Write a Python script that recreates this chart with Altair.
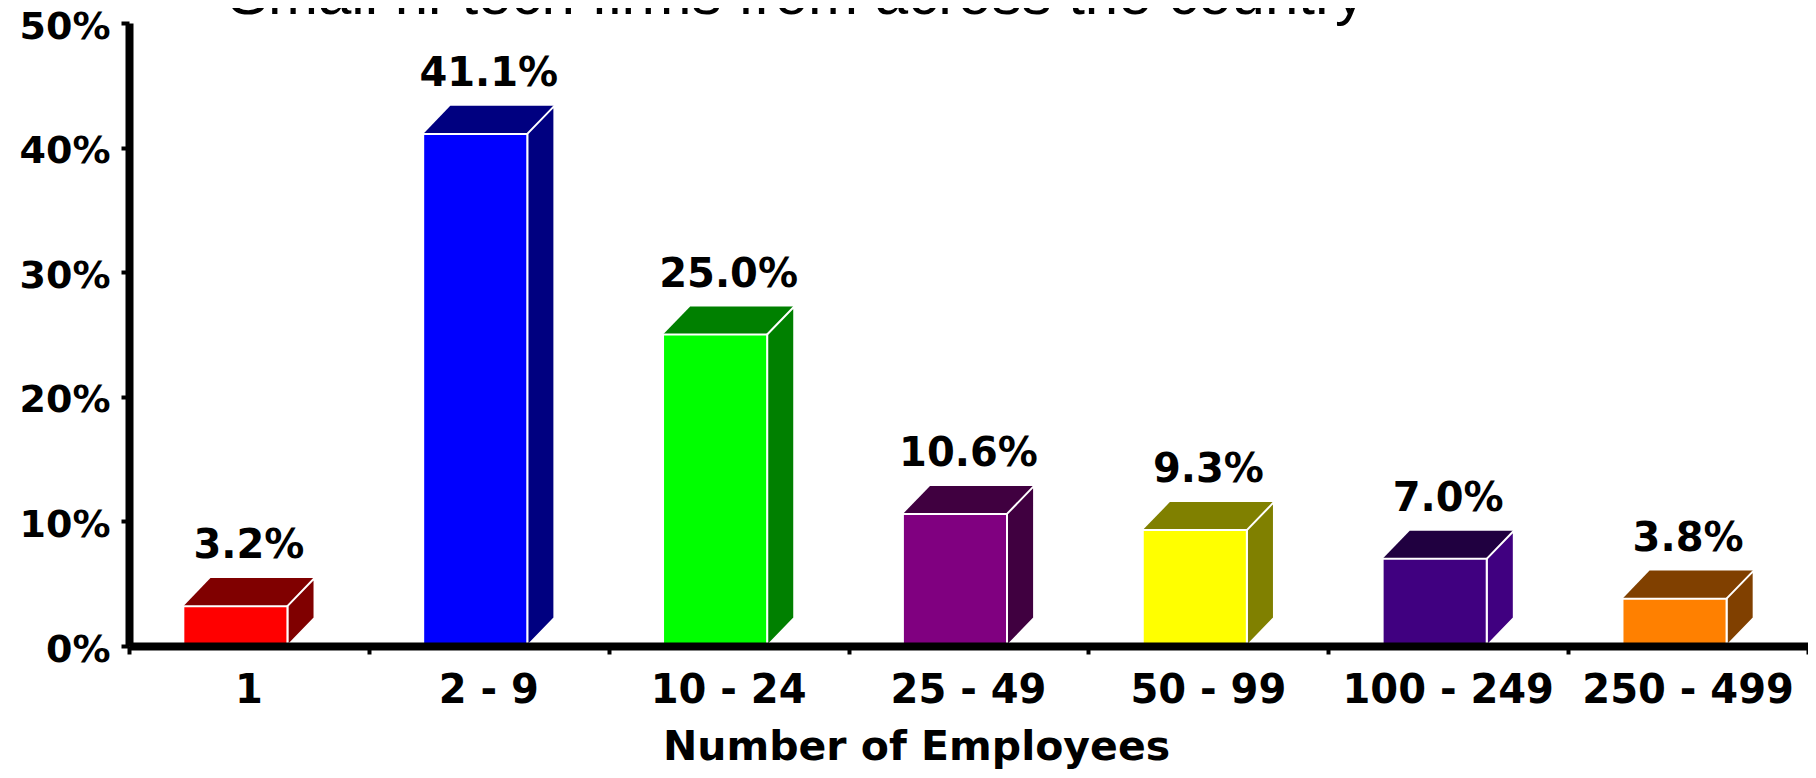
import altair as alt
import pandas as pd

# ---- data ----
CATEGORIES = ["1", "2 - 9", "10 - 24", "25 - 49", "50 - 99", "100 - 249", "250 - 499"]
SHARES = [3.2, 41.1, 25.0, 10.6, 9.3, 7.0, 3.8]
VALUE_LABELS = ["3.2%", "41.1%", "25.0%", "10.6%", "9.3%", "7.0%", "3.8%"]
Y_TICKS = [0, 10, 20, 30, 40, 50]
TITLE = "Small hi-tech firms from across the country"
X_TITLE = "Number of Employees"

# ---- styles ----
FRONT_COLORS = ["#ff0000", "#0000ff", "#00ff00", "#800080", "#ffff00", "#400080", "#ff8000"]
SIDE_COLORS = ["#800000", "#000080", "#008000", "#400040", "#808000", "#400080", "#804000"]
TOP_COLORS = ["#800000", "#000080", "#008000", "#400040", "#808000", "#200040", "#804000"]
BAR_W = 0.434    # front face width, in category units
DEPTH_X = 0.113  # 3-D depth, category units
DEPTH_Y = 2.25   # 3-D depth, percentage points
BOLD = "DejaVu Sans"

front_rows, side_rows, top_rows = [], [], []
for i, (cat, v, lab) in enumerate(zip(CATEGORIES, SHARES, VALUE_LABELS)):
    xc = i + 0.5
    xl = xc - (BAR_W + DEPTH_X) / 2
    xr = xl + BAR_W
    front_rows.append(dict(cat=cat, xl=xl, xr=xr, xc=xc, v=v, zero=0.0, label=lab))
    side_rows += [
        dict(cat=cat, px=xr, lo=0.0, hi=v),
        dict(cat=cat, px=xr + DEPTH_X, lo=DEPTH_Y, hi=v + DEPTH_Y),
    ]
    top_rows += [
        dict(cat=cat, px=xl, lo=v, hi=v),
        dict(cat=cat, px=xl + DEPTH_X, lo=v, hi=v + DEPTH_Y),
        dict(cat=cat, px=xr, lo=v, hi=v + DEPTH_Y),
        dict(cat=cat, px=xr + DEPTH_X, lo=v + DEPTH_Y, hi=v + DEPTH_Y),
    ]

front_df = pd.DataFrame(front_rows)
side_df = pd.DataFrame(side_rows)
top_df = pd.DataFrame(top_rows)

xscale = alt.Scale(domain=[0, len(CATEGORIES)], nice=False, zero=False)
yscale = alt.Scale(domain=[0, 50], nice=False)

x_axis = alt.Axis(
    values=list(range(len(CATEGORIES) + 1)),
    labels=False,
    grid=False,
    ticks=True,
    tickSize=8,
    tickWidth=4,
    tickColor="black",
    domainColor="black",
    domainWidth=8,
    zindex=1,
    title=X_TITLE,
    titleFont=BOLD,
    titleFontWeight="bold",
    titleFontSize=41,
    titleColor="black",
    titleX=787,
    titleY=113,
    titleAlign="center",
    titleBaseline="alphabetic",
)
y_axis = alt.Axis(
    values=Y_TICKS,
    labelExpr="datum.value + '%'",
    labelFont=BOLD,
    labelFontWeight="bold",
    labelFontSize=38,
    labelColor="black",
    labelPadding=11,
    labelBaseline="middle",
    labelOffset=4,
    grid=False,
    tickSize=8,
    tickWidth=4,
    tickColor="black",
    domainColor="black",
    domainWidth=8,
    zindex=1,
    title=None,
)


def cscale(colors):
    return alt.Scale(domain=CATEGORIES, range=colors)


top = alt.Chart(top_df).mark_area(interpolate="linear", opacity=1).encode(
    x=alt.X("px:Q", scale=xscale, axis=x_axis),
    y=alt.Y("lo:Q", scale=yscale, axis=y_axis, stack=None),
    y2="hi:Q",
    color=alt.Color("cat:N", scale=cscale(TOP_COLORS), legend=None),
    detail="cat:N",
)

side = alt.Chart(side_df).mark_area(
    interpolate="linear", opacity=1, stroke="white", strokeWidth=2
).encode(
    x=alt.X("px:Q", scale=xscale),
    y=alt.Y("lo:Q", scale=yscale, stack=None),
    y2="hi:Q",
    color=alt.Color("cat:N", scale=cscale(SIDE_COLORS), legend=None),
    detail="cat:N",
)

front = alt.Chart(front_df).mark_rect(stroke="white", strokeWidth=2).encode(
    x=alt.X("xl:Q", scale=xscale),
    x2="xr:Q",
    y=alt.Y("v:Q", scale=yscale),
    y2="zero:Q",
    color=alt.Color("cat:N", scale=cscale(FRONT_COLORS), legend=None),
)

value_text = alt.Chart(front_df).mark_text(
    font=BOLD, fontWeight="bold", fontSize=40, color="black",
    align="center", baseline="alphabetic", dy=-48,
).encode(
    x=alt.X("xc:Q", scale=xscale),
    y=alt.Y("v:Q", scale=yscale),
    text="label:N",
)

cat_text = alt.Chart(front_df).mark_text(
    font=BOLD, fontWeight="bold", fontSize=40, color="black",
    align="center", baseline="alphabetic",
).encode(
    x=alt.X("xc:Q", scale=xscale),
    y=alt.value(680),
    text="cat:N",
)

title_text = alt.Chart(pd.DataFrame({"t": [TITLE]})).mark_text(
    font="Liberation Sans", fontSize=60, color="black",
    align="left", baseline="alphabetic",
).encode(
    x=alt.value(99),
    y=alt.value(-9),
    text="t:N",
)

chart = (
    alt.layer(top, side, front, value_text, cat_text, title_text)
    .resolve_scale(color="independent")
    .properties(
        width=1679,
        height=623,
        autosize=alt.AutoSizeParams(type="none"),
        padding={"left": 121, "top": 15, "right": 0, "bottom": 124},
        background="white",
    )
    .configure_view(stroke=None)
)

chart.save("out.html", embed_options={"renderer": "svg", "actions": False})
